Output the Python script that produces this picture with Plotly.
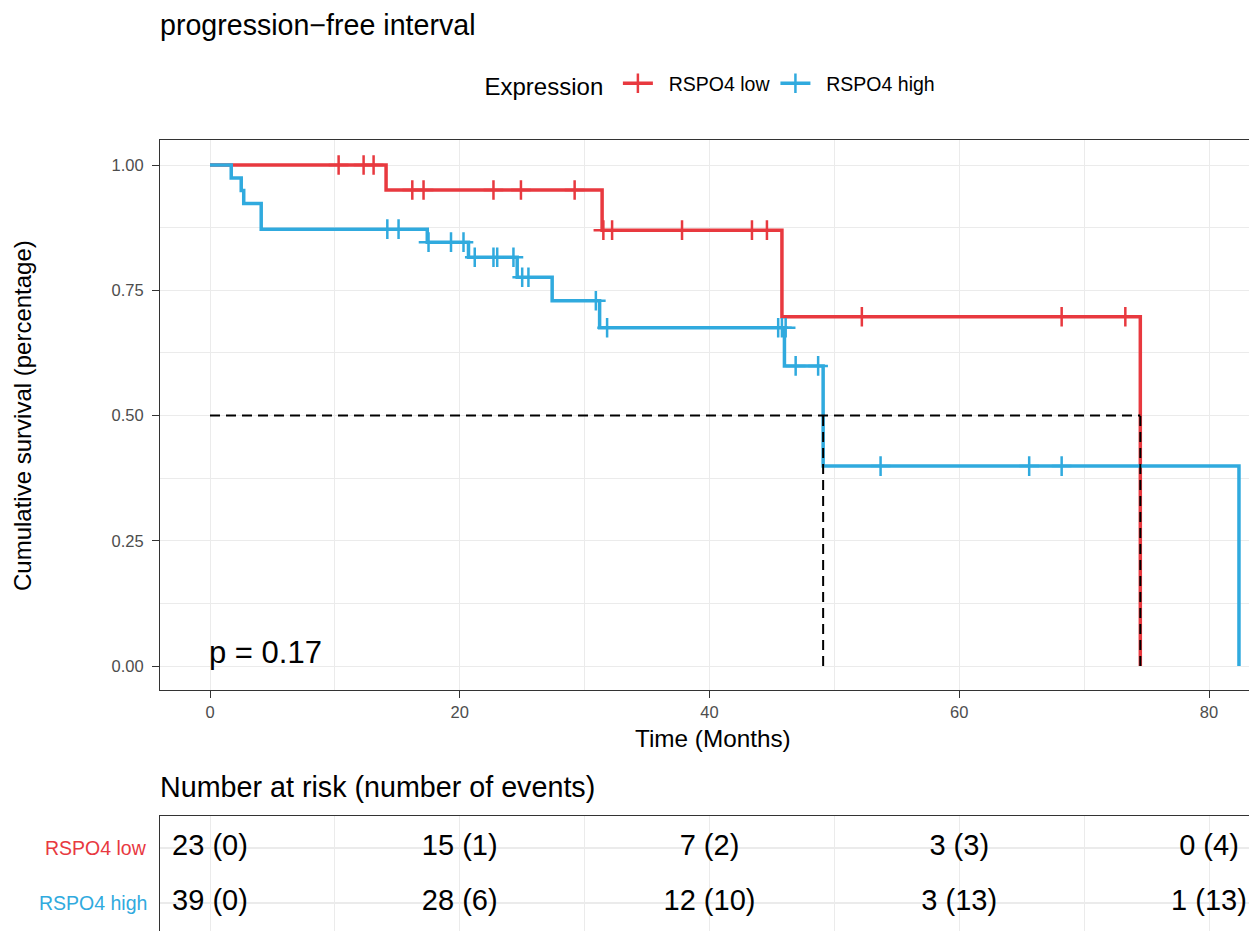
import plotly.graph_objects as go

# ---------------- data ----------------
groups = ["RSPO4 low", "RSPO4 high"]
colors = ["#E8393F", "#30AADE"]

# Kaplan-Meier step curves (event times and survival after each event)
low_event_times = [14.1, 31.4, 45.8, 74.5]
low_surv = [0.950, 0.870, 0.697, 0.0]
high_event_times = [1.7, 2.5, 2.7, 4.1, 17.4, 20.7, 24.6, 27.4, 31.2, 46.0, 49.1, 82.4]
high_surv = [0.974, 0.949, 0.923, 0.872, 0.846, 0.816, 0.776, 0.729, 0.675, 0.599, 0.399, 0.0]

# censoring marks
low_cens_times = [10.3, 12.3, 13.1, 16.2, 17.1, 22.7, 24.9, 29.2, 31.5, 32.2, 37.8, 43.4, 44.6, 52.2, 68.2, 73.3]
low_cens_surv = [1.0, 1.0, 1.0, 0.95, 0.95, 0.95, 0.95, 0.95, 0.87, 0.87, 0.87, 0.87, 0.87, 0.697, 0.697, 0.697]
high_cens_times = [14.2, 15.1, 17.5, 19.3, 20.3, 21.2, 22.7, 23.0, 24.3, 25.0, 25.5, 30.9, 31.8,
                   45.5, 45.8, 46.1, 46.9, 48.7, 53.7, 65.6, 68.2]
high_cens_surv = [0.872, 0.872, 0.846, 0.846, 0.846, 0.816, 0.816, 0.816, 0.816, 0.776, 0.776, 0.729, 0.675,
                  0.675, 0.675, 0.675, 0.599, 0.599, 0.399, 0.399, 0.399]

# median survival
medians = [74.5, 49.1]
p_text = "p = 0.17"

# risk table
risk_times = [0, 20, 40, 60, 80]
low_risk = ["23 (0)", "15 (1)", "7 (2)", "3 (3)", "0 (4)"]
high_risk = ["39 (0)", "28 (6)", "12 (10)", "3 (13)", "1 (13)"]

x_ticks = [0, 20, 40, 60, 80]
y_ticks = [0, 0.25, 0.5, 0.75, 1.0]
y_ticklabels = ["0.00", "0.25", "0.50", "0.75", "1.00"]

FONT = "Liberation Sans, Arial, Helvetica, sans-serif"
W, H = 1249, 931
GRID = "#EBEBEB"
AXC = "#333333"
NB = "\u00a0"

fig = go.Figure()

curves = [
    (low_event_times, low_surv, low_cens_times, low_cens_surv),
    (high_event_times, high_surv, high_cens_times, high_cens_surv),
]
for g, col, (et, sv, ct, cs) in zip(groups, colors, curves):
    xs = [0] + et
    ys = [1.0] + sv
    fig.add_trace(go.Scatter(x=xs, y=ys, mode="lines", line=dict(color=col, width=3.5, shape="hv"),
                             showlegend=False, legendgroup=g, hoverinfo="skip"))
    fig.add_trace(go.Scatter(x=ct, y=cs, mode="markers",
                             marker=dict(symbol="cross-thin", size=14, line=dict(color=col, width=2.5)),
                             showlegend=False, legendgroup=g, hoverinfo="skip"))
    # legend entry (line + censor mark)
    fig.add_trace(go.Scatter(x=[None], y=[None], mode="lines+markers", name=NB * 2 + g, legendgroup=g,
                             line=dict(color=col, width=3.5),
                             marker=dict(symbol="cross-thin", size=14, line=dict(color=col, width=2.5))))

# median dashed lines
fig.add_trace(go.Scatter(x=[0, max(medians)], y=[0.5, 0.5], mode="lines",
                         line=dict(color="black", width=2, dash="10px,6px"), showlegend=False, hoverinfo="skip"))
for m in medians:
    fig.add_trace(go.Scatter(x=[m, m], y=[0, 0.5], mode="lines",
                             line=dict(color="black", width=2, dash="10px,6px"), showlegend=False, hoverinfo="skip"))

# risk table text
for row_y, vals in zip([2, 1], [low_risk, high_risk]):
    fig.add_trace(go.Scatter(x=risk_times, y=[row_y] * len(risk_times), mode="text", text=vals,
                             textposition="middle center", cliponaxis=False,
                             textfont=dict(family=FONT, size=29, color="black"),
                             xaxis="x2", yaxis="y2", showlegend=False, hoverinfo="skip"))

# geometry
px_per_month = (1209 - 210) / 80.0
x_range = [-(210 - 160) / px_per_month, 80 + (1249 - 1209) / px_per_month]
px_per_unit = (666 - 165) / 1.0
y_range = [-(690 - 666) / px_per_unit, 1 + (165 - 140) / px_per_unit]

fig.update_layout(
    width=W, height=H,
    margin=dict(l=160, r=0, t=0, b=0, pad=0, autoexpand=False),
    paper_bgcolor="white", plot_bgcolor="white",
    font=dict(family=FONT, color="black"),
    xaxis=dict(domain=[0, 1], range=x_range, tickvals=x_ticks, ticks="outside", ticklen=7,
               tickwidth=1.2, tickcolor=AXC, tickfont=dict(size=16.5, color="#4D4D4D"),
               showgrid=True, gridcolor=GRID, gridwidth=1.4, automargin=False,
               minor=dict(dtick=10, tick0=0, showgrid=True, gridcolor=GRID, gridwidth=0.7),
               showline=True, linecolor=AXC, linewidth=1.2, mirror=True, zeroline=False),
    yaxis=dict(domain=[1 - 690 / H, 1 - 140 / H], range=y_range, tickvals=y_ticks, ticktext=y_ticklabels,
               ticks="outside", ticklen=7, tickwidth=1.2, tickcolor=AXC, automargin=False,
               tickfont=dict(size=16.5, color="#4D4D4D"), ticklabelstandoff=5,
               showgrid=True, gridcolor=GRID, gridwidth=1.4,
               minor=dict(dtick=0.125, tick0=0, showgrid=True, gridcolor=GRID, gridwidth=0.7),
               showline=True, linecolor=AXC, linewidth=1.2, mirror=False, zeroline=False),
    xaxis2=dict(domain=[0, 1], range=x_range, anchor="y2", side="top", showticklabels=False, ticks="",
                dtick=10, tick0=0, showgrid=True, gridcolor=GRID, gridwidth=1.2, automargin=False,
                showline=True, linecolor=AXC, linewidth=1.2, zeroline=False),
    yaxis2=dict(domain=[0, 1 - 816 / H], range=[1 - (931 - 903) / 55.0, 2 + (848 - 816) / 55.0],
                anchor="x2", tickvals=[1, 2], showticklabels=False, ticks="", automargin=False,
                showgrid=True, gridcolor=GRID, gridwidth=1.6,
                showline=True, linecolor=AXC, linewidth=1.2, zeroline=False),
    legend=dict(orientation="h", xref="paper", yref="paper", x=(711.5 - 160) / 1089, xanchor="center",
                y=1 - 85 / H, yanchor="middle", font=dict(size=19.5, color="black"),
                title=dict(text="Expression" + NB, font=dict(size=24, color="black"), side="left"),
                itemwidth=30, bgcolor="rgba(0,0,0,0)"),
    showlegend=True,
)

ann = []
ann.append(dict(text="progression\u2212free interval", xref="paper", yref="paper",
                x=0, y=1 - 25 / H, xanchor="left", yanchor="middle", showarrow=False, xshift=-2,
                font=dict(size=28.6, color="black")))
ann.append(dict(text="Time (Months)", xref="paper", yref="paper",
                x=(713 - 160) / 1089, y=1 - 738 / H, xanchor="center", yanchor="middle", showarrow=False,
                font=dict(size=24.3, color="black")))
ann.append(dict(text="Cumulative survival (percentage)", xref="paper", yref="paper",
                x=(22 - 160) / 1089, y=1 - 416 / H, xanchor="center", yanchor="middle", showarrow=False,
                textangle=-90, font=dict(size=24, color="black")))
ann.append(dict(text=p_text, xref="x", yref="y", x=0, y=0.026, xanchor="left", yanchor="middle",
                showarrow=False, xshift=-3, font=dict(size=31, color="black")))
ann.append(dict(text="Number at risk (number of events)", xref="paper", yref="paper",
                x=0, y=1 - 787 / H, xanchor="left", yanchor="middle", showarrow=False, xshift=-2,
                font=dict(size=28.7, color="black")))
for g, col, ry in zip(groups, colors, [2, 1]):
    ann.append(dict(text=g, xref="paper", yref="y2", x=(147 - 160) / 1089, y=ry,
                    xanchor="right", yanchor="middle", showarrow=False, xshift=2,
                    font=dict(size=19.5, color=col)))
fig.update_layout(annotations=ann)

fig.write_html("out.html", config={"displayModeBar": False},
               post_script="document.body.style.margin='0';document.body.style.overflow='hidden';")
